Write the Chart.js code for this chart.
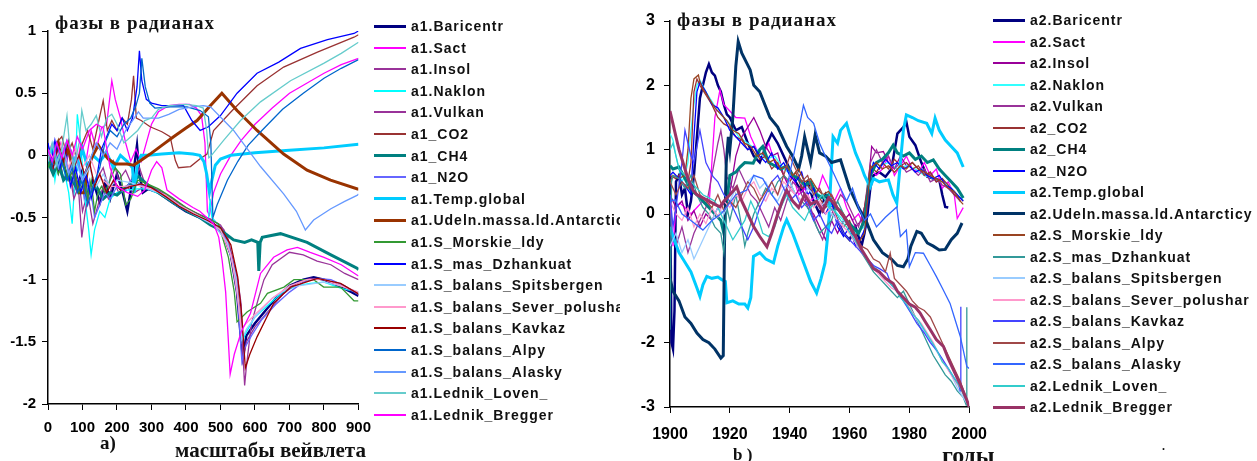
<!DOCTYPE html>
<html>
<head>
<meta charset="utf-8">
<script src="https://cdn.jsdelivr.net/npm/chart.js@4.4.1/dist/chart.umd.min.js"></script>
<style>
  body { margin: 0; background: #fff; width: 1257px; height: 461px; overflow: hidden; position: relative; }
  .panel { position: absolute; top: 0; }
  .lbl { position: absolute; font-family: 'Liberation Serif', serif; font-weight: bold; color: #111; white-space: nowrap; line-height: 1; }
  .legend { position: absolute; font-family: 'Liberation Sans', Arial, sans-serif; font-weight: bold; font-size: 14px; letter-spacing: 1px; color: #111; }
  .legend .row { position: absolute; left: 0; height: 16px; white-space: nowrap; }
  .legend .sw { position: absolute; left: 0; width: 32px; }
  .legend .tx { position: absolute; top: -8px; line-height: 16px; }
</style>
</head>
<body>
<div class="panel" style="left:0;width:380px;height:461px"><canvas id="c1" width="380" height="461"></canvas></div>
<div class="legend" id="leg1" style="left:374px;top:0"></div>
<div class="lbl" style="left:55px;top:13px;font-size:19px;letter-spacing:1px">фазы в радианах</div>
<div class="lbl" style="left:100px;top:433px;font-size:19px">а)</div>
<div class="lbl" style="left:175px;top:440px;font-size:21px">масштабы вейвлета</div>

<div class="panel" style="left:620px;width:637px;height:461px;background:#fff"><canvas id="c2" width="379" height="461"></canvas></div>
<div class="legend" id="leg2" style="left:993px;top:0"></div>
<div class="lbl" style="left:677px;top:10px;font-size:19px;letter-spacing:1px">фазы в радианах</div>
<div class="lbl" style="left:733px;top:446px;font-size:17px">b )</div>
<div class="lbl" style="left:942px;top:443px;font-size:24px">годы</div>
<div class="lbl" style="left:1162px;top:440px;font-size:12px">.</div>

<script>
// ---------- panel a) : phase vs wavelet scale ----------
const leftNames = ['a1.Baricentr', 'a1.Sact', 'a1.Insol', 'a1.Naklon', 'a1.Vulkan', 'a1_CO2', 'a1_CH4', 'a1_N2O',
  'a1.Temp.global', 'a1.Udeln.massa.ld.Antarcticy', 'a1.S_Morskie_ldy', 'a1.S_mas_Dzhankuat', 'a1.S_balans_Spitsbergen',
  'a1.S_balans_Sever_polushar', 'a1.S_balans_Kavkaz', 'a1.S_balans_Alpy', 'a1.S_balans_Alasky', 'a1.Lednik_Loven_', 'a1.Lednik_Bregger'];
const leftColors = ['#000080', '#ff00ff', '#993399', '#00ffff', '#993399', '#993333', '#008080', '#6666ff',
  '#00ccff', '#993300', '#339933', '#0000ff', '#99ccff', '#ff99cc', '#990000', '#0066cc', '#6699ff', '#66cccc', '#ff00ff'];
const leftWidths = [2.5, 1.3, 1.3, 1.3, 1.3, 1.3, 3, 1.3, 3, 3, 1.3, 1.3, 1.3, 1.3, 1.3, 1.3, 1.3, 1.3, 1.3];
const leftTicksX = [0, 100, 200, 300, 400, 500, 600, 700, 800, 900];
const leftTicksY = [-2, -1.5, -1, -0.5, 0, 0.5, 1];

const a1Baricentr = [[0,0.02],[10,-0.08],[20,0.05],[30,-0.12],[40,0],[55,-0.18],[70,-0.05],[85,-0.25],[100,-0.12],[115,-0.3],[130,-0.2],[150,-0.38],[165,-0.22],[180,-0.35],[200,-0.15],[215,-0.28],[230,-0.45],[245,-0.2],[258,0.08],[265,-0.15],[275,-0.3],[290,-0.27],[320,-0.3],[360,-0.38],[400,-0.45],[440,-0.5],[480,-0.55],[510,-0.65],[530,-0.8],[548,-1.1],[560,-1.5],[565,-1.62],[575,-1.45],[600,-1.35],[630,-1.25],[660,-1.15],[700,-1.05],[740,-1],[770,-0.98],[800,-1],[850,-1.06],[880,-1.1],[900,-1.13]];
const a1Sact = [[0,0],[10,0.08],[20,-0.05],[35,0.1],[50,-0.08],[65,0.05],[80,-0.15],[95,0.1],[110,-0.05],[125,0.2],[140,0.05],[155,0.22],[170,0.25],[185,0.6],[195,0.45],[210,0.3],[225,0.1],[240,-0.05],[255,0.05],[270,-0.05],[285,0.1],[300,0.25],[320,0.35],[350,0.4],[380,0.41],[410,0.41],[430,0.38],[445,0.32],[455,0.1],[462,-0.45],[468,-0.48],[480,-0.3],[500,-0.15],[530,0],[560,0.12],[600,0.25],[650,0.38],[700,0.5],[750,0.58],[800,0.66],[850,0.73],[900,0.78]];
const a1Insol = [[0,-0.05],[15,0.05],[30,-0.1],[45,-0.2],[60,-0.1],[75,-0.3],[90,-0.2],[100,-0.45],[115,-0.3],[130,-0.55],[145,-0.4],[160,-0.25],[175,-0.35],[190,-0.2],[205,-0.3],[225,-0.25],[250,-0.3],[280,-0.25],[320,-0.28],[360,-0.35],[400,-0.42],[440,-0.48],[480,-0.52],[510,-0.6],[530,-0.78],[550,-1],[560,-1.2],[565,-1.6],[570,-1.85],[575,-1.7],[590,-1.35],[610,-1.15],[626,-1],[650,-0.88],[700,-0.78],[740,-0.8],[780,-0.85],[820,-0.88],[860,-0.95],[900,-1]];
const a1Naklon = [[0,-0.1],[10,0.05],[20,-0.2],[30,0],[45,-0.1],[60,-0.3],[70,-0.55],[78,-0.2],[85,0.33],[95,0.1],[105,-0.3],[118,-0.6],[125,-0.8],[135,-0.6],[150,-0.45],[165,-0.5],[180,-0.35],[200,-0.3],[230,-0.28],[260,-0.27],[290,-0.27],[330,-0.32],[370,-0.4],[410,-0.46],[450,-0.5],[465,-0.52],[470,-0.35],[475,-0.5],[500,-0.58],[530,-0.78],[548,-1.05],[558,-1.35],[562,-1.5],[575,-1.42],[600,-1.3],[640,-1.2],[680,-1.1],[720,-1.05],[760,-1.03],[800,-1.02],[850,-1.07],[900,-1.1]];
const a1Vulkan = [[0,0],[15,-0.12],[30,0.05],[45,-0.2],[60,-0.1],[75,-0.35],[88,-0.25],[98,-0.66],[108,-0.45],[120,-0.3],[140,-0.2],[160,-0.1],[175,-0.25],[190,-0.05],[205,-0.2],[225,-0.12],[245,-0.25],[265,-0.1],[280,-0.22],[300,-0.25],[340,-0.32],[380,-0.4],[420,-0.45],[460,-0.5],[500,-0.56],[520,-0.65],[545,-0.95],[558,-1.3],[566,-1.65],[575,-1.5],[600,-1.38],[640,-1.25],[680,-1.12],[720,-1.03],[760,-0.99],[800,-1],[850,-1.05],[900,-1.11]];
const a1CO2 = [[0,0.05],[12,-0.05],[25,0.1],[40,0.15],[55,0],[70,0.1],[85,-0.05],[100,0.1],[115,0.2],[130,0.05],[145,0.25],[160,0.44],[172,0.2],[185,0.28],[200,0.2],[215,0.3],[230,0.25],[242,0.45],[248,0.64],[256,0.3],[270,0.28],[296,0.23],[330,0.19],[354,0.15],[369,-0.04],[378,-0.1],[413,-0.09],[440,-0.03],[461,0.01],[470,0.1],[480,0.2],[534,0.36],[606,0.56],[683,0.71],[781,0.83],[887,0.95],[900,0.97]];
const a1CH4 = [[0,-0.05],[15,-0.15],[30,-0.05],[45,-0.2],[60,-0.15],[80,-0.25],[100,-0.2],[120,-0.3],[140,-0.25],[160,-0.35],[180,-0.3],[200,-0.32],[230,-0.25],[262,-0.17],[290,-0.24],[330,-0.32],[370,-0.39],[410,-0.46],[440,-0.5],[471,-0.56],[500,-0.6],[538,-0.68],[570,-0.7],[590,-0.68],[608,-0.7],[611,-0.93],[615,-0.7],[621,-0.66],[674,-0.63],[751,-0.7],[820,-0.8],[897,-0.91],[900,-0.92]];
const a1N2O = [[0,0.08],[15,-0.02],[30,0.1],[45,-0.1],[60,0.02],[75,-0.2],[90,-0.05],[105,-0.35],[120,-0.2],[135,-0.5],[150,-0.4],[165,-0.3],[180,-0.35],[200,-0.25],[220,-0.3],[240,-0.2],[260,-0.22],[280,-0.25],[320,-0.29],[360,-0.36],[400,-0.44],[440,-0.5],[480,-0.56],[510,-0.64],[535,-0.85],[550,-1.15],[558,-1.5],[562,-1.66],[570,-1.55],[590,-1.45],[620,-1.32],[660,-1.2],[700,-1.1],[740,-1.02],[780,-0.99],[820,-1],[860,-1.05],[900,-1.12]];
const a1TempGlobal = [[0,0],[10,0.05],[20,-0.05],[30,0.08],[40,-0.03],[55,0.1],[70,0],[85,-0.1],[100,0.05],[115,-0.1],[130,0],[150,-0.05],[170,0.02],[190,-0.1],[210,0],[230,-0.05],[245,-0.1],[250,-0.3],[258,-0.1],[270,0],[290,0],[330,0.01],[380,0.02],[420,0.01],[440,0],[452,-0.05],[460,-0.15],[468,-0.3],[475,-0.2],[485,-0.08],[500,-0.03],[530,0],[600,0.02],[700,0.04],[800,0.06],[900,0.09]];
const a1Udeln = [[0,0.02],[15,-0.05],[30,0.1],[45,-0.05],[60,0.05],[75,-0.15],[90,-0.3],[105,-0.3],[115,-0.1],[130,0],[146,0.08],[160,0.02],[175,-0.03],[195,-0.07],[229,-0.07],[248,-0.08],[270,-0.04],[296,0.01],[330,0.08],[364,0.15],[400,0.22],[432,0.28],[471,0.4],[504,0.5],[520,0.45],[548,0.36],[606,0.2],[683,0.01],[751,-0.12],[819,-0.2],[897,-0.27],[900,-0.27]];
const a1Morskie = [[0,-0.1],[15,0],[30,-0.15],[45,-0.05],[60,-0.2],[75,-0.1],[90,-0.3],[105,-0.2],[115,-0.35],[125,-0.2],[135,-0.45],[145,-0.3],[155,-0.25],[165,-0.3],[180,-0.2],[195,-0.1],[210,-0.15],[225,-0.4],[240,-0.35],[260,-0.2],[280,-0.22],[320,-0.27],[360,-0.34],[400,-0.42],[440,-0.48],[494,-0.55],[523,-0.82],[540,-1.1],[548,-1.34],[577,-1.26],[616,-1.19],[636,-1.11],[684,-1.06],[713,-1],[770,-1],[799,-1.06],[848,-1.06],[887,-1.17],[900,-1.17]];
const a1Dzhankuat = [[0,0.1],[10,-0.05],[20,0.12],[35,-0.1],[50,0.05],[65,-0.25],[80,-0.1],[95,-0.3],[110,-0.15],[125,-0.35],[140,-0.2],[155,0.05],[170,0.15],[185,0.25],[200,0.2],[215,0.3],[230,0.2],[245,0.3],[258,0.55],[265,0.84],[272,0.6],[285,0.45],[300,0.42],[330,0.4],[370,0.4],[393,0.4],[417,0.28],[441,0.2],[465,0.23],[500,0.32],[548,0.5],[606,0.66],[669,0.75],[732,0.86],[810,0.93],[887,0.98],[900,1]];
const a1Spitsbergen = [[0,0],[20,-0.1],[40,0.05],[60,-0.15],[80,-0.05],[100,-0.2],[120,-0.1],[140,-0.25],[160,-0.15],[180,-0.25],[200,-0.2],[240,-0.22],[280,-0.26],[320,-0.3],[360,-0.37],[400,-0.44],[440,-0.5],[480,-0.56],[520,-0.7],[545,-0.98],[558,-1.35],[562,-1.48],[575,-1.4],[600,-1.3],[650,-1.15],[700,-1.06],[750,-1.04],[800,-1.02],[850,-1.05],[900,-1.1]];
const a1Sever = [[0,0.05],[20,-0.05],[40,0.1],[60,-0.1],[80,0.05],[100,-0.1],[120,0],[140,-0.15],[160,-0.2],[180,-0.25],[220,-0.25],[260,-0.24],[300,-0.27],[340,-0.32],[380,-0.4],[420,-0.46],[460,-0.52],[500,-0.6],[530,-0.8],[548,-1.1],[560,-1.4],[575,-1.35],[600,-1.28],[650,-1.15],[700,-1.05],[750,-1],[800,-1],[850,-1.05],[900,-1.1]];
const a1Kavkaz = [[0,0.02],[15,-0.1],[30,0.08],[45,-0.05],[60,0.12],[75,-0.1],[90,0],[105,-0.15],[120,-0.05],[135,-0.25],[150,-0.15],[170,-0.3],[190,-0.2],[210,-0.28],[240,-0.25],[270,-0.23],[300,-0.26],[340,-0.33],[380,-0.41],[420,-0.47],[460,-0.52],[500,-0.58],[530,-0.72],[550,-0.98],[562,-1.3],[568,-1.55],[572,-1.71],[585,-1.6],[606,-1.46],[654,-1.19],[703,-1.06],[781,-0.99],[848,-1.03],[897,-1.11],[900,-1.12]];
const a1Alpy = [[0,0.05],[12,-0.08],[25,0.1],[40,-0.05],[55,-0.2],[70,-0.1],[85,-0.3],[100,-0.2],[115,-0.4],[130,-0.25],[150,-0.1],[165,0.1],[180,0.2],[200,0.15],[220,0.25],[240,0.3],[255,0.4],[265,0.5],[272,0.78],[282,0.55],[295,0.42],[310,0.38],[354,0.39],[403,0.39],[441,0.36],[465,0.31],[472,0.1],[478,-0.5],[490,-0.4],[520,-0.2],[550,-0.05],[580,0.08],[620,0.2],[680,0.37],[740,0.5],[800,0.62],[850,0.7],[900,0.77]];
const a1Alasky = [[0,0],[15,0.1],[30,-0.1],[45,0.05],[60,-0.15],[80,0],[100,-0.2],[120,-0.05],[140,0.1],[160,0],[180,0.1],[200,0.05],[225,0.2],[245,0.28],[262,0.35],[276,0.3],[290,0.3],[320,0.3],[350,0.33],[380,0.37],[420,0.39],[450,0.4],[471,0.39],[538,0.2],[616,-0.09],[683,-0.31],[720,-0.45],[746,-0.6],[770,-0.52],[820,-0.43],[860,-0.37],[897,-0.32],[900,-0.31]];
const a1Loven = [[0,-0.05],[12,0.1],[25,-0.08],[40,0.05],[55,0.32],[62,0.1],[75,-0.1],[90,0.1],[98,0.36],[110,0.2],[125,0.25],[140,0.32],[155,0.15],[170,0.3],[185,0.33],[200,0.25],[220,0.1],[240,0.15],[260,0.2],[280,0.28],[300,0.3],[320,0.37],[350,0.4],[400,0.41],[430,0.4],[450,0.38],[460,0.2],[466,-0.02],[471,-0.01],[509,0.12],[558,0.28],[616,0.43],[703,0.6],[799,0.74],[850,0.82],[900,0.91]];
const a1Bregger = [[0,0.05],[12,-0.05],[25,0.1],[40,-0.02],[55,0.12],[70,0],[85,0.15],[100,0.05],[120,0.2],[140,0.25],[160,0.22],[180,-0.1],[200,-0.25],[230,-0.3],[260,-0.33],[280,-0.28],[300,-0.12],[315,-0.05],[330,-0.1],[345,-0.28],[380,-0.35],[420,-0.42],[440,-0.45],[480,-0.55],[495,-0.66],[505,-0.85],[515,-1.1],[522,-1.45],[528,-1.76],[540,-1.6],[560,-1.42],[587,-1.27],[616,-0.95],[654,-0.82],[693,-0.76],[723,-0.74],[760,-0.78],[800,-0.82],[850,-0.88],[900,-0.97]];

const leftSeries = [a1Baricentr, a1Sact, a1Insol, a1Naklon, a1Vulkan, a1CO2, a1CH4, a1N2O, a1TempGlobal, a1Udeln,
  a1Morskie, a1Dzhankuat, a1Spitsbergen, a1Sever, a1Kavkaz, a1Alpy, a1Alasky, a1Loven, a1Bregger];

// ---------- panel b) : phase vs year ----------
const rightNames = ['a2.Baricentr', 'a2.Sact', 'a2.Insol', 'a2.Naklon', 'a2.Vulkan', 'a2_CO2', 'a2_CH4', 'a2_N2O',
  'a2.Temp.global', 'a2.Udeln.massa.ld.Antarcticy', 'a2.S_Morskie_ldy', 'a2.S_mas_Dzhankuat', 'a2.S_balans_Spitsbergen',
  'a2.S_balans_Sever_polushar', 'a2.S_balans_Kavkaz', 'a2.S_balans_Alpy', 'a2.S_balans_Alasky', 'a2.Lednik_Loven_', 'a2.Lednik_Bregger'];
const rightColors = ['#000080', '#ff00ff', '#990099', '#33ffff', '#993399', '#993333', '#008080', '#0000ff',
  '#00ccff', '#003366', '#994422', '#339999', '#99ccff', '#ff99cc', '#4444ff', '#a04848', '#3366ff', '#33cccc', '#993366'];
const rightWidths = [2.5, 1.3, 1.3, 1.3, 1.3, 1.3, 3, 1.3, 3, 3, 1.3, 1.3, 1.3, 1.3, 1.3, 1.3, 1.3, 1.3, 3];
const rightTicksX = [1900, 1920, 1940, 1960, 1980, 2000];
const rightTicksY = [-3, -2, -1, 0, 1, 2, 3];

const a2Baricentr = [[1900,0.6],[1900.5,-2],[1901,-2.1],[1901.5,-1.5],[1902,0.5],[1903,0.6],[1904,0.3],[1905,0.4],[1906,0],[1907,0.2],[1908,0.6],[1909,1.2],[1910,1.8],[1911,2],[1912,2.2],[1913,2.33],[1914,2.2],[1915,2.15],[1916,2],[1917,1.9],[1918,1.7],[1919,1.55],[1920,1.5],[1922,1.3],[1924,1.35],[1926,1.1],[1928,0.9],[1930,0.8],[1932,1.05],[1934,1.25],[1936,1.1],[1938,0.9],[1940,0.7],[1942,0.5],[1944,0.35],[1946,0.5],[1948,0.2],[1950,0],[1952,0.3],[1954,0.1],[1956,-0.1],[1958,-0.3],[1960,-0.4],[1962,-0.2],[1964,-0.5],[1965,-0.3],[1966,0],[1967,0.42],[1968,0.6],[1970,0.65],[1972,0.58],[1974,0.7],[1976,1.25],[1978,1.35],[1979,1.43],[1980,1.2],[1982,1.07],[1984,0.8],[1986,0.58],[1988,0.55],[1990,0.53],[1991,0.3],[1992,0.11],[1993,0.1]];
const a2Sact = [[1900,0.2],[1901,-0.5],[1902,0.1],[1903.3,0.17],[1905,0.1],[1907,0],[1909,0.1],[1911,0.2],[1913,0.1],[1914,0.8],[1915,1.5],[1916.7,1.93],[1918,1.7],[1920,1.6],[1922,1.5],[1925,1.49],[1927,1.2],[1929,1],[1931,0.9],[1933,1.1],[1935,0.8],[1937,0.7],[1939,0.5],[1941,0.6],[1943,0.3],[1945,0.4],[1947,0.2],[1949,0.3],[1951,0.6],[1953,0.4],[1955,0.2],[1957,0.4],[1959,0.1],[1961,-0.1],[1963,0],[1965,-0.2],[1966,0.3],[1967,0.7],[1969,0.6],[1971,0.7],[1973,0.9],[1975,0.6],[1977,0.75],[1979,0.9],[1981,0.7],[1983,0.65],[1985,0.8],[1987,0.6],[1989,0.7],[1991,0.4],[1993,0.5],[1995,0.3],[1996,-0.07],[1998,0.1]];
const a2Insol = [[1900,0.3],[1902,0.1],[1904,0.2],[1906,-0.1],[1908,0.05],[1910,-0.2],[1912,0],[1914,-0.1],[1916,0.1],[1918,0.15],[1920,0.33],[1922,0.9],[1924,1.2],[1926,1.35],[1928,1.5],[1930,1.3],[1932,1.05],[1934,0.9],[1936,0.95],[1938,0.6],[1940,0.4],[1942,0.3],[1944,0.45],[1946,0.1],[1948,0],[1950,-0.2],[1952,-0.4],[1954,-0.1],[1956,-0.3],[1958,-0.1],[1960,0],[1962,-0.2],[1964,-0.1],[1966,0.3],[1967.4,1.05],[1969,0.95],[1971.3,0.97],[1973,0.8],[1975,0.7],[1977,0.9],[1979,0.75],[1981,0.8],[1983,0.7],[1985,0.6],[1987,0.65],[1989,0.5],[1991,0.55],[1993,0.4],[1995,0.35],[1997,0.2]];
const a2Naklon = [[1900,1.25],[1901,1.15],[1902,0.9],[1903,0.7],[1904,0.5],[1905,0.6],[1906,0.8],[1907,1.3],[1908,1.7],[1909,2],[1910,2.08],[1912,1.9],[1914,1.75],[1916,1.6],[1918,1.5],[1920,1.4],[1923,1.2],[1926,1.1],[1929,1],[1932,0.85],[1935,0.9],[1938,0.7],[1941,0.6],[1944,0.5],[1947,0.4],[1950,0.3],[1953,0.2],[1956,0],[1959,-0.15],[1962,-0.3],[1965,-0.2],[1966,0.5],[1968,0.8],[1970,0.75],[1973,0.8],[1976,0.7],[1979,0.75],[1982,0.7],[1985,0.6],[1988,0.55],[1991,0.5],[1994,0.4],[1996,0.3],[1998,0.22]];
const a2Vulkan = [[1900,-0.3],[1902,-0.5],[1904,-0.2],[1906,-0.6],[1908,-0.3],[1910,-0.1],[1912,0.1],[1914,0.6],[1916,1.1],[1917,1.3],[1918,1],[1919,0.58],[1921,0.4],[1923,0.7],[1925,0.5],[1927,0.3],[1929,0.2],[1931,0],[1933,-0.2],[1935,0.1],[1937,-0.1],[1939,0.2],[1941,0.5],[1943,0.4],[1945,0.2],[1947,0.1],[1949,-0.2],[1951,-0.4],[1953,-0.1],[1955,0.1],[1957,0.3],[1959,0.2],[1961,0],[1963,-0.2],[1965,0.1],[1967,0.8],[1969,1],[1971,0.8],[1973,0.9],[1975,0.7],[1977,0.8],[1979,0.65],[1981,0.7],[1983,0.6],[1985,0.7],[1987,0.5],[1989,0.55],[1991,0.45],[1993,0.4],[1995,0.3],[1997,0.2]];
const a2CO2 = [[1900,0.6],[1902,0.55],[1904,0.65],[1906,0.5],[1907,0.8],[1908,1.9],[1909,2.1],[1910,2],[1912,1.85],[1914,1.7],[1916,1.5],[1918,1.4],[1920,1.35],[1922,1.2],[1924,1.15],[1926,1],[1928,1.05],[1930,0.85],[1932,0.9],[1934,0.7],[1936,0.8],[1938,0.6],[1940,0.5],[1942,0.65],[1944,0.4],[1946,0.45],[1948,0.3],[1950,0.25],[1952,0.1],[1954,0.2],[1956,-0.1],[1958,-0.2],[1960,-0.1],[1962,-0.35],[1964,-0.2],[1966,0.4],[1967,0.75],[1969,0.65],[1971,0.8],[1973,0.7],[1975,0.85],[1977,0.75],[1979,0.8],[1981,0.7],[1983,0.75],[1985,0.6],[1987,0.65],[1989,0.5],[1991,0.55],[1993,0.45],[1995,0.3],[1997,0.25],[1998,0.2]];
const a2CH4 = [[1900,0.75],[1901,0.7],[1903,0.73],[1905,0.55],[1907,0.37],[1909,0.3],[1911,0.2],[1913,0.1],[1915,0],[1917,-0.1],[1918,-0.3],[1919,0.2],[1920,0.6],[1922,0.65],[1923.4,0.73],[1925,0.8],[1927.8,0.79],[1930,1],[1931,1.05],[1933,0.8],[1935,0.75],[1937,0.7],[1939,0.75],[1941,0.6],[1943,0.55],[1945,0.45],[1947,0.5],[1949,0.3],[1951,0.25],[1953,0.3],[1955,0.1],[1957,0.05],[1959,-0.1],[1961,-0.2],[1963,-0.3],[1965,-0.1],[1967,0.6],[1969,0.8],[1971,0.85],[1973,0.95],[1974.6,1.07],[1976,0.95],[1978,0.9],[1980,0.95],[1982,0.85],[1984,0.9],[1986,0.8],[1988,0.84],[1990,0.7],[1992,0.6],[1994,0.5],[1996,0.4],[1998,0.25]];
const a2N2O = [[1900,0.6],[1901,0.65],[1903,0.55],[1905,0.45],[1907,0.3],[1908,1.2],[1909,1.9],[1910,2.05],[1912,1.9],[1914,1.7],[1916,1.65],[1918,1.5],[1920,1.3],[1922,1.2],[1924,1.1],[1926,1],[1928,1.05],[1930,0.9],[1932,0.8],[1934,0.95],[1936,0.7],[1938,0.8],[1940,0.6],[1942,0.5],[1944,0.65],[1946,0.3],[1948,0.4],[1950,0.1],[1952,0],[1954,0.2],[1956,-0.2],[1958,-0.35],[1960,-0.2],[1962,-0.5],[1964,-0.35],[1965.5,-0.2],[1966.5,0.5],[1968,0.8],[1970,0.7],[1972,0.85],[1974,0.75],[1976,0.8],[1978,0.7],[1980,0.75],[1982,0.65],[1984,0.7],[1986,0.6],[1988,0.55],[1990,0.6],[1992,0.45],[1994,0.4],[1996,0.3],[1998,0.2]];
const a2TempGlobal = [[1900,-0.2],[1901,-0.35],[1903,-0.6],[1905,-0.75],[1907,-0.9],[1909,-1.15],[1910,-1.28],[1911,-1.1],[1912.3,-0.97],[1914,-1],[1916,-0.98],[1917.3,-1.02],[1918.5,-1.05],[1919,-1.38],[1921,-1.35],[1923,-1.4],[1925,-1.4],[1926,-1.46],[1927,-1.3],[1927.9,-0.66],[1930,-0.6],[1932,-0.7],[1934.6,-0.76],[1936,-0.5],[1938,-0.2],[1939,-0.09],[1941,-0.3],[1943,-0.55],[1945,-0.8],[1947,-1.05],[1949,-1.23],[1950.5,-1],[1951.8,-0.76],[1953,-0.2],[1953.8,0.6],[1954.5,1.2],[1956,1.1],[1957,1.3],[1959,1.41],[1960,1.25],[1962,0.95],[1964,0.73],[1965,0.6],[1966.9,0.42],[1968,0.55],[1970,0.5],[1973,0.53],[1974.5,0.3],[1975.8,0.17],[1977,0.8],[1978,1.3],[1979,1.54],[1981,1.5],[1983,1.45],[1985.8,1.41],[1987.5,1.25],[1988.6,1.49],[1990,1.3],[1992,1.15],[1994,1.05],[1996,0.95],[1998,0.73]];
const a2Udeln = [[1900,-1],[1901,-1.2],[1903,-1.35],[1905,-1.6],[1907,-1.7],[1909,-1.85],[1911,-1.95],[1913,-2],[1915,-2.1],[1917,-2.24],[1917.8,-2.2],[1918.2,-0.5],[1918.8,0.8],[1919.5,1.2],[1920,1],[1921,1.5],[1922,2.3],[1922.8,2.68],[1924,2.5],[1926.8,2.24],[1928,2],[1930,1.9],[1933.4,1.5],[1936,1.35],[1939,1.05],[1941,0.9],[1943,0.7],[1944,0.9],[1945,1.2],[1946,1],[1947,0.8],[1948.5,1.23],[1950,0.95],[1952,0.9],[1954,0.8],[1957,0.84],[1960,0.4],[1963,0.1],[1965.8,-0.14],[1968,-0.4],[1971,-0.6],[1974,-0.7],[1976,-0.8],[1978,-0.82],[1979.5,-0.7],[1980.5,-0.5],[1982.5,-0.27],[1984,-0.3],[1986,-0.45],[1988,-0.5],[1990,-0.56],[1992,-0.55],[1994,-0.4],[1996,-0.3],[1997.6,-0.14]];
const a2Morskie = [[1900,0.5],[1901,0.6],[1903,0.55],[1905,0.6],[1906,1],[1907,1.8],[1908,2.1],[1909.5,2.16],[1910,2.05],[1911,1.95],[1913,1.8],[1915,1.65],[1917,1.55],[1919,1.45],[1921,1.3],[1923,1.25],[1925,1.1],[1927,1.05],[1929,0.9],[1931,0.95],[1933,0.8],[1935,0.85],[1937,0.7],[1939,0.75],[1941,0.6],[1943,0.7],[1945,0.5],[1947,0.55],[1949,0.4],[1951,0.3],[1953,0.35],[1955,0.2],[1957,0],[1959,-0.1],[1961,-0.3],[1963,-0.45],[1965,-0.3],[1966,0.2],[1967,0.7],[1969,0.8],[1971,0.7],[1973,0.75],[1975,0.65],[1977,0.75],[1979,0.7],[1981,0.8],[1983,0.7],[1985,0.65],[1987,0.6],[1989,0.55],[1991,0.5],[1993,0.4],[1995,0.35],[1997,0.2],[1998,0.15]];
const a2Dzhankuat = [[1900,-1.8],[1900.5,0.5],[1901,0.6],[1903,0.55],[1905,0.4],[1907,0.6],[1909,0.3],[1911,0.1],[1913,0],[1915,-0.2],[1917,-0.3],[1918,-0.6],[1919,0.1],[1920,-0.1],[1922,0.3],[1924,-0.2],[1925,-0.5],[1926,-0.3],[1928,0],[1930,0.2],[1932,0.4],[1934,0.3],[1936,0.5],[1938,0.6],[1940,0.5],[1942,0.3],[1944,0.2],[1946,0.1],[1948,-0.1],[1950,-0.3],[1952,-0.2],[1954,-0.1],[1956,0.2],[1958,0],[1960,-0.2],[1962,-0.4],[1964,-0.6],[1966,-0.75],[1968,-0.9],[1970,-1],[1972,-1.1],[1974,-1.2],[1976,-1.3],[1978,-1.2],[1980,-1.4],[1982,-1.6],[1984,-1.8],[1986,-2],[1988,-2.2],[1990,-2.35],[1992,-2.5],[1994,-2.6],[1996,-2.75],[1998,-2.85],[1999,-2.97],[1999.2,-1.45]];
const a2Spitsbergen = [[1900,-0.5],[1902,-0.3],[1904,-0.6],[1906,-0.4],[1908,-0.7],[1910,-0.5],[1912,-0.3],[1914,-0.1],[1916,0.1],[1918,0],[1920,0.2],[1922,0.4],[1924,0.3],[1926,0.5],[1928,0.6],[1930,0.4],[1932,0.5],[1934,0.3],[1936,0.2],[1938,0.4],[1940,0.5],[1942,0.3],[1944,0.2],[1946,0.4],[1948,0.3],[1950,0.1],[1952,0.2],[1954,0],[1956,-0.1],[1958,-0.2],[1960,-0.3],[1962,-0.4],[1964,-0.55],[1966,-0.7],[1968,-0.8],[1970,-0.9],[1972,-1],[1974,-1.1],[1976,-1.2],[1978,-1.35],[1980,-1.5],[1982,-1.6],[1984,-1.75],[1986,-1.9],[1988,-2.05],[1990,-2.2],[1992,-2.35],[1994,-2.5],[1996,-2.7],[1998,-2.85],[2000,-3]];
const a2Sever = [[1900,0.2],[1902,0],[1904,-0.1],[1906,0.1],[1908,-0.2],[1910,0],[1912,-0.15],[1914,0.1],[1916,-0.05],[1918,0.2],[1920,0.1],[1922,0.3],[1924,0.2],[1926,0.4],[1928,0.5],[1930,0.3],[1932,0.2],[1934,0.4],[1936,0.3],[1938,0.5],[1940,0.4],[1942,0.3],[1944,0.2],[1946,0.3],[1948,0.1],[1950,0.2],[1952,0],[1954,0.1],[1956,-0.1],[1958,-0.2],[1960,-0.3],[1962,-0.45],[1964,-0.6],[1966,-0.7],[1968,-0.85],[1970,-0.95],[1972,-1.05],[1974,-1.15],[1976,-1.2],[1978,-1.3],[1980,-1.45],[1982,-1.6],[1984,-1.7],[1986,-1.85],[1988,-2],[1990,-2.2],[1992,-2.35],[1994,-2.5],[1996,-2.65],[1998,-2.8],[2000,-3]];
const a2Kavkaz = [[1900,0.3],[1901,-0.2],[1902,0.1],[1904,0.8],[1905,1.3],[1906,1.1],[1907,0.9],[1908,0.8],[1910,1.3],[1912,0.8],[1914.4,0.58],[1916,0.5],[1918,0.3],[1920,0.2],[1922,0],[1924,-0.2],[1926,-0.4],[1928,-0.2],[1930,0.1],[1932,0.3],[1934,0.5],[1936,0.6],[1938,0.4],[1940,0.2],[1942,0.3],[1944,0.1],[1946,0.2],[1948,-0.1],[1950,0],[1952,-0.2],[1954,-0.3],[1956,-0.1],[1958,-0.3],[1960,-0.4],[1962,-0.5],[1964,-0.6],[1966,-0.7],[1968,-0.8],[1970,-0.85],[1972.5,-0.92],[1974,-1.1],[1976,-1.2],[1978,-1.35],[1980,-1.5],[1982.5,-1.7],[1985,-1.85],[1987,-2],[1989,-2.11],[1991,-2.25],[1993,-2.4],[1995,-2.55],[1996.5,-2.65],[1997,-2.75],[1997.2,-1.44]];
const a2Alpy = [[1900,0.5],[1902,0.3],[1904,0.5],[1906,0.4],[1908,0.6],[1910,0.3],[1912,0.2],[1914,0.1],[1916,0.3],[1918,0.05],[1920,0.2],[1922,0.1],[1924,0.3],[1926,0.5],[1928,0.4],[1930,0.2],[1932,0.35],[1934,0.5],[1936,0.3],[1938,0.6],[1940,0.9],[1942,0.7],[1944,0.5],[1946,0.6],[1948,0.3],[1950,0.4],[1952,0.2],[1954,0.3],[1956,0.1],[1958,0],[1960,-0.15],[1962,-0.35],[1964,-0.5],[1966,-0.55],[1968,-0.7],[1970,-0.75],[1972,-0.9],[1973.6,-0.61],[1975,-1],[1977,-1.1],[1979,-1.2],[1981,-1.35],[1983,-1.45],[1985,-1.5],[1987,-1.6],[1989,-1.8],[1991,-2],[1993,-2.2],[1995,-2.4],[1997,-2.6],[1999,-2.85],[2000,-3]];
const a2Alasky = [[1900,0.2],[1901.7,0.22],[1904,0],[1907,-0.1],[1911,-0.25],[1914,-0.1],[1917,0],[1919,0.11],[1922,0.3],[1925.6,0.37],[1928,0.6],[1931,0.55],[1934,0.3],[1937,0.1],[1939,0.4],[1941,0.84],[1943,1.3],[1944.6,1.69],[1946,1.5],[1948,1.41],[1950,1.1],[1952,0.89],[1954.6,0.64],[1957,0.4],[1959,0.2],[1961,0.4],[1963,0.1],[1965,-0.1],[1967,0],[1969,-0.2],[1972,-0.05],[1975.8,0.11],[1977,-0.35],[1979,-0.25],[1980,-0.82],[1982,-0.6],[1984.7,-0.61],[1987,-0.8],[1989,-0.97],[1991,-1.15],[1993.6,-1.39],[1995,-1.6],[1997,-1.9],[1999.2,-2.37],[2000,-2.4]];
const a2Loven = [[1900,1],[1901,1.1],[1902,0.9],[1903,0.7],[1905,0.6],[1907,0.5],[1909,0.4],[1911,0.3],[1913,0.25],[1915,0.2],[1917,0],[1919,-0.2],[1921,-0.4],[1923,-0.25],[1925,-0.1],[1927,0.2],[1929,0],[1931,-0.3],[1933,-0.35],[1935,-0.2],[1937,0.1],[1939,0.3],[1941,0.1],[1943,0],[1945,-0.1],[1947,0.1],[1949,0.2],[1951,0.3],[1953,0.1],[1955,0.05],[1957,-0.1],[1959,-0.2],[1961,-0.35],[1963,-0.5],[1965,-0.65],[1967,-0.8],[1969,-0.85],[1971,-0.95],[1973,-1.05],[1975,-1.15],[1977,-1.3],[1979,-1.4],[1981,-1.55],[1983,-1.65],[1985,-1.8],[1987,-1.95],[1989,-2.1],[1991,-2.3],[1993,-2.4],[1995,-2.55],[1997,-2.7],[1999,-2.9],[2000,-3]];
const a2Bregger = [[1900,1.6],[1901,1.4],[1902,1.2],[1903,1],[1904,0.85],[1905,0.7],[1906,0.55],[1907.7,0.37],[1909,0.3],[1911,0.25],[1913,0.2],[1915,0.15],[1916.7,0.11],[1918,0.2],[1920,0.3],[1922.3,0.42],[1924,0.2],[1926,0],[1928,-0.2],[1930,-0.35],[1932.4,-0.51],[1934,-0.3],[1936,0],[1937.5,0.2],[1939,0.37],[1941,0.2],[1943,0.1],[1945,0.3],[1947,0.15],[1949,0.2],[1951,0.05],[1953,0.25],[1955,0.15],[1958,-0.04],[1960,-0.2],[1962,-0.35],[1964,-0.55],[1966,-0.7],[1968,-0.85],[1970,-0.9],[1972,-1],[1974.6,-1.08],[1976,-1.2],[1978,-1.3],[1980,-1.4],[1982,-1.45],[1983.6,-1.54],[1985,-1.65],[1987,-1.8],[1989,-1.95],[1991.4,-2.06],[1993,-2.25],[1995,-2.45],[1997,-2.65],[1999.2,-2.89],[2000,-3]];

const rightSeries = [a2Baricentr, a2Sact, a2Insol, a2Naklon, a2Vulkan, a2CO2, a2CH4, a2N2O, a2TempGlobal, a2Udeln,
  a2Morskie, a2Dzhankuat, a2Spitsbergen, a2Sever, a2Kavkaz, a2Alpy, a2Alasky, a2Loven, a2Bregger];

// ---------- helpers ----------
function makeDatasets(names, colors, widths, series) {
  return series.map((s, i) => ({
    label: names[i],
    data: s,
    borderColor: colors[i],
    borderWidth: widths[i],
    pointRadius: 0,
    tension: 0,
    fill: false,
    order: series.length - i   // first series underneath, like the spreadsheet
  }));
}

function axis(min, max, ticks, fontSize, pad, extra) {
  return Object.assign({
    type: 'linear',
    min: min,
    max: max,
    afterBuildTicks: (a) => { a.ticks = ticks.map(v => ({ value: v })); },
    grid: { display: true, drawOnChartArea: false, drawTicks: true, tickLength: 6, color: '#000', lineWidth: 1 },
    border: { display: true, color: '#000', width: 1.5 },
    ticks: {
      color: '#000',
      padding: pad,
      maxRotation: 0,
      autoSkip: false,
      callback: (v) => String(v),
      font: { family: "'Liberation Sans', Arial, sans-serif", size: fontSize, weight: 'bold' }
    }
  }, extra || {});
}

function makeChart(id, datasets, xs, ys, opts) {
  return new Chart(document.getElementById(id), {
    type: 'line',
    data: { datasets: datasets },
    options: {
      responsive: false,
      animation: false,
      events: [],
      layout: { padding: opts.padding },
      plugins: { legend: { display: false }, tooltip: { enabled: false } },
      scales: {
        x: axis(xs[0], xs[xs.length - 1], xs, opts.font, opts.xPad, { afterFit: (a) => { a.height = opts.xh; } }),
        y: axis(ys[0], ys[ys.length - 1], ys, opts.font, opts.yPad, { afterFit: (a) => { a.width = opts.yw; } })
      }
    }
  });
}

function makeLegend(id, names, colors, widths, top, step) {
  const box = document.getElementById(id);
  names.forEach((n, i) => {
    const row = document.createElement('div');
    row.className = 'row';
    row.style.top = (top + i * step) + 'px';
    const sw = document.createElement('div');
    sw.className = 'sw';
    const h = widths[i] > 2 ? 3 : 2;
    sw.style.height = h + 'px';
    sw.style.top = (-h / 2) + 'px';
    sw.style.background = colors[i];
    const tx = document.createElement('div');
    tx.className = 'tx';
    tx.style.left = '37px';
    tx.textContent = n;
    row.appendChild(sw);
    row.appendChild(tx);
    box.appendChild(row);
  });
}

makeChart('c1', makeDatasets(leftNames, leftColors, leftWidths, leftSeries), leftTicksX, leftTicksY,
  { padding: { top: 31, right: 14, left: 0, bottom: 0 }, xh: 57, yw: 48, font: 15, xPad: 9, yPad: 6 });
makeChart('c2', makeDatasets(rightNames, rightColors, rightWidths, rightSeries), rightTicksX, rightTicksY,
  { padding: { top: 21, right: 16, left: 0, bottom: 0 }, xh: 54, yw: 50, font: 16, xPad: 12, yPad: 9 });

makeLegend('leg1', leftNames, leftColors, leftWidths, 26, 21.6);
makeLegend('leg2', rightNames, rightColors, rightWidths, 20, 21.5);
</script>
</body>
</html>
